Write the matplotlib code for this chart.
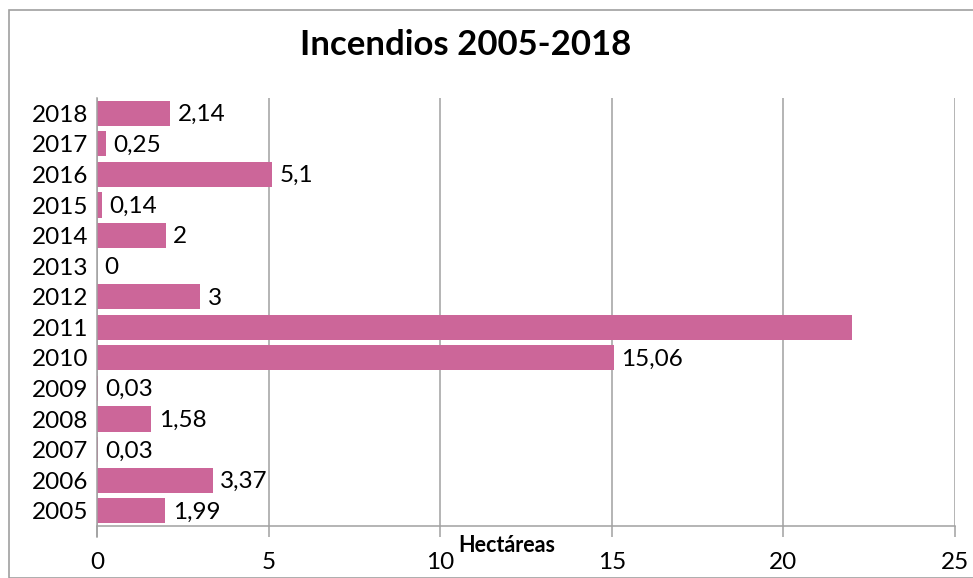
import matplotlib
matplotlib.use("Agg")
import matplotlib.pyplot as plt
from matplotlib.patches import Rectangle

plt.rcParams['font.family'] = ['Lato', 'DejaVu Sans']

years = ["2005", "2006", "2007", "2008", "2009", "2010", "2011",
         "2012", "2013", "2014", "2015", "2016", "2017", "2018"]
hectareas = [1.99, 3.37, 0.03, 1.58, 0.03, 15.06, 22.0,
             3.0, 0.0, 2.0, 0.14, 5.1, 0.25, 2.14]
value_labels = ["1,99", "3,37", "0,03", "1,58", "0,03", "15,06", "",
                "3", "0", "2", "0,14", "5,1", "0,25", "2,14"]
x_ticks = [0, 5, 10, 15, 20, 25]
title = "Incendios 2005-2018"
x_title = "Hectáreas"

W, H = 973, 578
fig = plt.figure(figsize=(W / 100, H / 100), dpi=100)

# outer chart border
fig.patches.append(Rectangle((9 / W, 0), 1.2, 1 - 10 / H, transform=fig.transFigure,
                             fill=False, edgecolor="#a0a0a0", linewidth=1.2))

ax = fig.add_axes([97 / W, 1 - 526 / H, 858 / W, 428 / H])
ypos = list(range(len(years)))
ax.barh(ypos, hectareas, height=0.82, color="#CC6699", zorder=3)

for y, v, lab in zip(ypos, hectareas, value_labels):
    if lab:
        ax.annotate(lab, (v, y), xytext=(5.5, -1), textcoords="offset points",
                    va="center", ha="left", fontsize=17.5, color="black", zorder=4)

ax.set_xlim(0, 25)
ax.set_ylim(-0.5, len(years) - 0.5)
ax.set_xticks(x_ticks)
ax.set_xticklabels([str(t) for t in x_ticks], fontsize=17.5)
ax.set_yticks(ypos)
ax.set_yticklabels(years, fontsize=17.5)

ax.grid(axis="x", color="#a0a0a0", linewidth=1.1, zorder=0)
ax.tick_params(axis="x", length=8, width=1.1, color="#a0a0a0", pad=11)
ax.tick_params(axis="y", length=0, pad=6)

for s in ["top", "right"]:
    ax.spines[s].set_visible(False)
for s in ["left", "bottom"]:
    ax.spines[s].set_color("#a0a0a0")
    ax.spines[s].set_linewidth(1.1)
ax.spines["left"].set_bounds(-0.5 - 11 / 30.57, len(years) - 0.5)
ax.spines["left"].set_zorder(5)

fig.text(507 / W, 1 - 545 / H, x_title, ha="center", va="center",
         fontsize=15.5, fontweight="bold")
fig.text(466 / W, 1 - 45 / H, title, ha="center", va="center",
         fontsize=25, fontweight="bold")

fig.savefig("out.png", dpi=100)
